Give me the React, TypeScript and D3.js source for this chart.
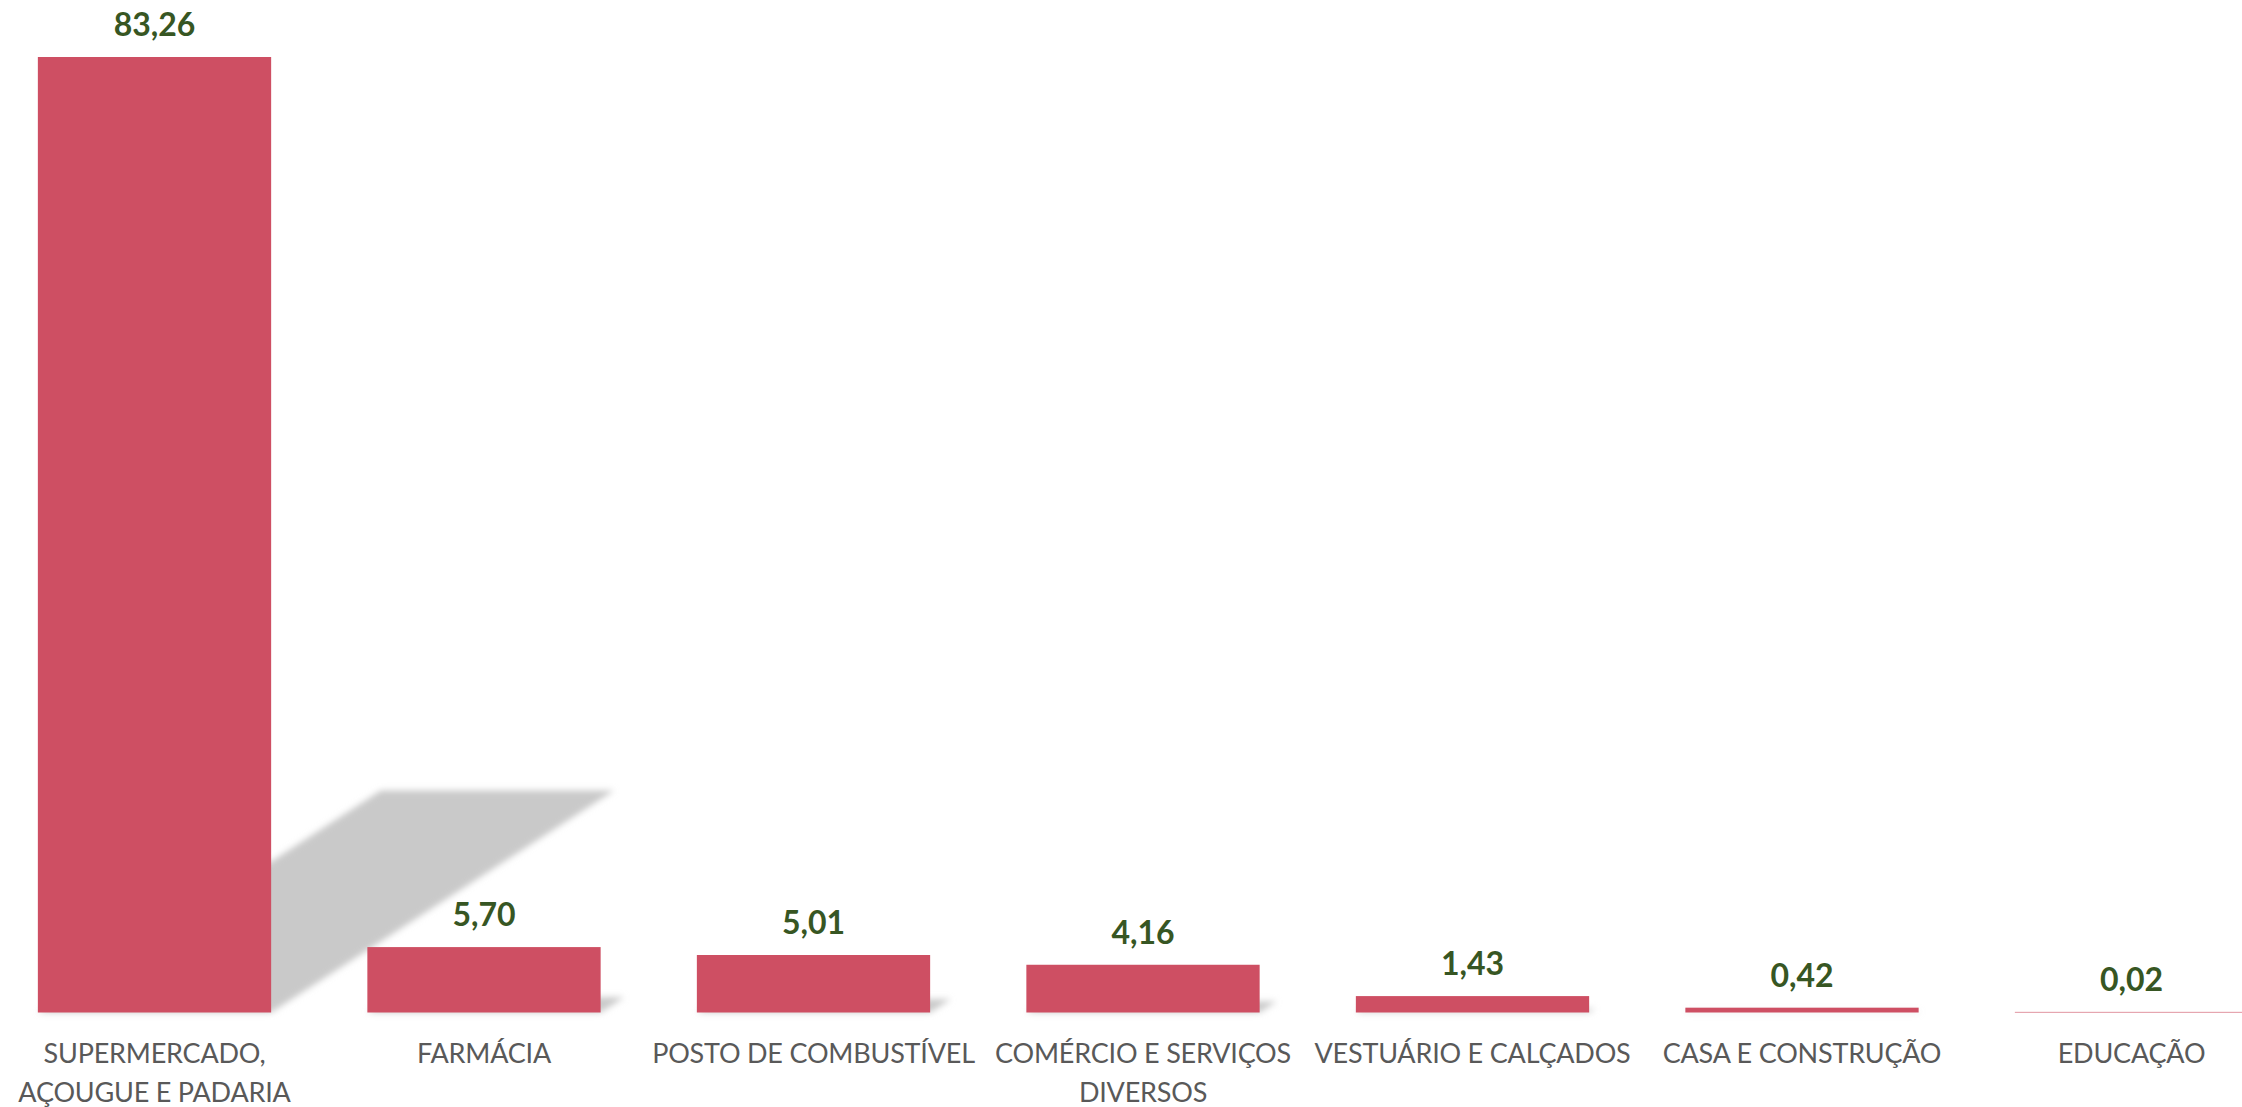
import React from "react";
import * as d3 from "d3";

const categories = [
  "SUPERMERCADO,\nAÇOUGUE E PADARIA",
  "FARMÁCIA",
  "POSTO DE COMBUSTÍVEL",
  "COMÉRCIO E SERVIÇOS\nDIVERSOS",
  "VESTUÁRIO E CALÇADOS",
  "CASA E CONSTRUÇÃO",
  "EDUCAÇÃO",
];
const values = [83.26, 5.7, 5.01, 4.16, 1.43, 0.42, 0.02];

const W = 2242;
const H = 1107;
const BASE = 1012.5;
const TOP = 57;
const STEP = 329.5;
const X0 = 154.5 - STEP / 2;

const fmt = (v: number) => v.toFixed(2).replace(".", ",");

export default function App() {
  const x = d3
    .scaleBand<string>()
    .domain(categories)
    .range([X0, X0 + STEP * categories.length])
    .paddingInner(0.292)
    .paddingOuter(0.146);
  const y = d3.scaleLinear().domain([0, 83.26]).range([BASE, TOP]);
  const bw = x.bandwidth();
  const shiftK = 343 / (BASE - TOP);
  const compK = 222 / (BASE - TOP);

  return (
    <div style={{ position: "absolute", left: 0, top: 0 }}>
      <svg width={W} height={H} style={{ display: "block", background: "#fff" }}>
        <defs>
          <filter id="blur" x="-20%" y="-20%" width="140%" height="140%">
            <feGaussianBlur stdDeviation="3" />
          </filter>
        </defs>
        <g filter="url(#blur)">
          {categories.map((c, i) => {
            const x0 = x(c)!;
            const h = BASE - y(values[i]);
            const dx = h * shiftK;
            const dy = h * compK;
            const pts = [
              [x0, BASE],
              [x0 + bw, BASE],
              [x0 + bw + dx, BASE - dy],
              [x0 + dx, BASE - dy],
            ]
              .map((p) => p.join(","))
              .join(" ");
            return <polygon key={c} points={pts} fill="#c9c9c9" />;
          })}
        </g>
        {categories.map((c, i) => {
          const h = Math.max(BASE - y(values[i]), 0.6);
          return (
            <rect
              key={c}
              x={x(c)!}
              y={BASE - h}
              width={bw}
              height={h}
              fill="#CE4F63"
            />
          );
        })}
        {categories.map((c, i) => (
          <text
            key={c}
            x={x(c)! + bw / 2}
            y={y(values[i]) - 21}
            textAnchor="middle"
            fontFamily="Lato, 'Open Sans', sans-serif"
            fontWeight={700}
            fontSize={32}
            fill="#375623"
          >
            {fmt(values[i])}
          </text>
        ))}
        {categories.map((c) => (
          <text
            key={c}
            textAnchor="middle"
            fontFamily="Lato, 'Open Sans', sans-serif"
            fontSize={27}
            letterSpacing={-0.2}
            fill="#595959"
          >
            {c.split("\n").map((line, j) => (
              <tspan key={j} x={x(c)! + bw / 2} y={1063 + j * 39}>
                {line}
              </tspan>
            ))}
          </text>
        ))}
      </svg>
    </div>
  );
}
